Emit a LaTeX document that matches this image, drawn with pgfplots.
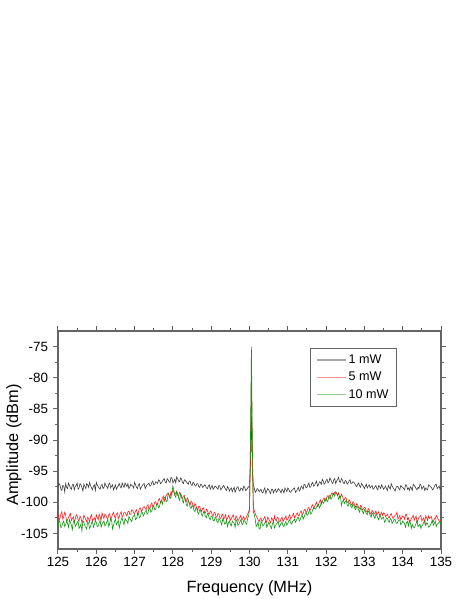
\documentclass[border=0pt]{standalone}
\usepackage{pgfplots}
\usepackage{pgfplotstable}
\pgfplotsset{compat=1.18}
\usepackage{fontspec}
\setmainfont{Liberation Sans}
\definecolor{axgray}{RGB}{100,100,100}
\definecolor{cblack}{RGB}{60,60,60}
\definecolor{cred}{RGB}{255,30,30}
\definecolor{cgreen}{RGB}{20,150,20}
\pgfplotstableread{
f p1 p5 p10
125.000 -97.6 -101.8 -103.8
125.025 -97.0 -102.9 -102.9
125.050 -97.2 -102.6 -103.2
125.075 -97.9 -101.9 -104.1
125.100 -98.1 -101.5 -103.9
125.125 -97.3 -102.7 -103.3
125.150 -97.4 -102.3 -103.0
125.175 -98.3 -101.6 -103.9
125.200 -97.0 -102.0 -103.6
125.225 -97.6 -103.1 -102.9
125.250 -97.8 -102.8 -103.4
125.275 -96.9 -102.4 -104.0
125.300 -97.3 -102.1 -102.8
125.325 -97.7 -101.8 -103.2
125.350 -97.9 -102.9 -103.7
125.375 -97.2 -102.6 -104.4
125.400 -97.1 -102.3 -103.1
125.425 -98.0 -103.2 -102.9
125.450 -97.5 -102.7 -103.9
125.475 -97.3 -102.0 -103.6
125.500 -96.9 -102.2 -103.3
125.525 -97.9 -102.8 -103.0
125.550 -97.7 -103.0 -104.2
125.575 -97.0 -102.2 -103.9
125.600 -97.2 -102.5 -103.5
125.625 -97.6 -103.3 -104.6
125.650 -98.2 -102.9 -103.0
125.675 -97.1 -102.1 -103.2
125.700 -97.4 -102.4 -103.8
125.725 -97.8 -102.8 -104.0
125.750 -97.0 -103.1 -104.3
125.775 -97.2 -102.4 -103.1
125.800 -97.6 -102.6 -103.4
125.825 -96.8 -103.2 -104.2
125.850 -97.3 -102.3 -103.9
125.875 -97.7 -102.0 -103.3
125.900 -98.0 -103.0 -103.1
125.925 -97.4 -102.7 -104.0
125.950 -97.2 -102.5 -103.6
125.975 -98.1 -103.0 -103.0
126.000 -96.8 -102.0 -103.2
126.025 -97.2 -102.4 -103.9
126.050 -97.5 -102.8 -103.8
126.075 -97.7 -101.9 -103.3
126.100 -97.9 -102.3 -102.9
126.125 -97.3 -102.9 -104.0
126.150 -97.1 -101.7 -103.5
126.175 -97.8 -102.2 -103.2
126.200 -97.6 -102.6 -103.0
126.225 -96.9 -101.9 -103.8
126.250 -97.3 -102.1 -103.6
126.275 -97.5 -102.5 -103.1
126.300 -97.8 -102.7 -102.8
126.325 -97.1 -102.0 -103.9
126.350 -96.9 -101.8 -103.4
126.375 -97.7 -102.8 -102.6
126.400 -97.4 -102.4 -102.9
126.425 -97.2 -101.9 -104.3
126.450 -98.0 -101.6 -103.7
126.475 -97.6 -102.3 -103.1
126.500 -97.2 -102.5 -102.7
126.525 -97.9 -101.9 -103.6
126.550 -97.6 -101.7 -103.3
126.575 -97.3 -102.6 -102.9
126.600 -97.0 -102.3 -104.1
126.625 -97.5 -101.8 -103.4
126.650 -97.7 -101.5 -102.8
126.675 -96.9 -102.4 -102.5
126.700 -97.3 -102.1 -103.2
126.725 -97.6 -101.6 -103.6
126.750 -96.9 -101.6 -102.6
126.775 -97.2 -101.9 -102.9
126.800 -97.5 -102.2 -103.0
126.825 -97.0 -101.5 -103.4
126.850 -97.8 -101.4 -102.3
126.875 -97.6 -102.0 -102.6
126.900 -97.1 -101.9 -102.9
126.925 -97.3 -101.2 -103.1
126.950 -97.4 -101.3 -102.4
126.975 -97.7 -101.7 -102.2
127.000 -96.8 -101.8 -102.0
127.025 -97.2 -101.4 -102.8
127.050 -97.6 -101.2 -102.6
127.075 -97.8 -101.9 -102.0
127.100 -97.2 -101.6 -101.8
127.125 -97.0 -101.0 -102.5
127.150 -97.9 -100.9 -102.3
127.175 -97.6 -101.5 -101.7
127.200 -97.3 -101.3 -101.6
127.225 -97.1 -100.8 -102.2
127.250 -97.0 -100.7 -101.9
127.275 -97.8 -101.0 -101.5
127.300 -97.5 -101.2 -101.3
127.325 -97.2 -100.6 -101.9
127.350 -97.1 -100.4 -101.7
127.375 -96.9 -101.1 -101.0
127.400 -97.4 -100.9 -100.9
127.425 -97.3 -100.4 -101.6
127.450 -96.8 -100.1 -101.4
127.475 -96.6 -100.8 -100.8
127.500 -97.2 -100.5 -100.6
127.525 -97.1 -100.0 -101.2
127.550 -96.7 -99.9 -101.1
127.575 -96.8 -100.4 -100.4
127.600 -97.0 -100.2 -100.2
127.625 -96.4 -99.6 -100.9
127.650 -96.5 -99.4 -100.7
127.675 -97.0 -100.1 -99.9
127.700 -96.9 -99.8 -99.8
127.725 -96.6 -99.3 -100.3
127.750 -96.4 -99.0 -99.6
127.775 -96.2 -99.8 -99.3
127.800 -96.8 -99.5 -99.1
127.825 -96.9 -98.9 -99.9
127.850 -96.2 -98.7 -99.8
127.875 -96.4 -98.5 -98.6
127.900 -96.7 -98.9 -98.8
127.925 -96.8 -99.2 -99.4
127.950 -96.0 -98.3 -99.2
127.975 -96.1 -98.6 -98.3
128.000 -96.9 -98.0 -97.4
128.025 -96.6 -98.3 -98.1
128.050 -96.3 -98.8 -98.9
128.075 -96.9 -98.5 -99.2
128.100 -95.9 -98.2 -98.3
128.125 -96.2 -98.9 -98.6
128.150 -96.6 -99.0 -99.3
128.175 -96.7 -98.4 -99.7
128.200 -96.1 -98.6 -98.7
128.225 -96.3 -99.2 -98.9
128.250 -96.8 -99.4 -99.8
128.275 -97.0 -99.0 -100.1
128.300 -96.4 -98.9 -99.2
128.325 -96.5 -99.7 -99.5
128.350 -96.7 -99.9 -100.4
128.375 -96.9 -99.3 -100.6
128.400 -97.1 -99.6 -99.7
128.425 -96.6 -100.1 -100.0
128.450 -96.6 -100.4 -100.8
128.475 -97.2 -99.8 -101.0
128.500 -97.3 -100.0 -100.5
128.525 -96.8 -100.5 -100.7
128.550 -96.9 -100.8 -101.3
128.575 -97.3 -100.2 -101.5
128.600 -97.4 -100.5 -100.9
128.625 -97.0 -101.0 -101.1
128.650 -97.0 -101.3 -101.7
128.675 -97.5 -100.6 -101.9
128.700 -97.6 -100.7 -101.2
128.725 -97.1 -101.2 -101.4
128.750 -97.2 -101.5 -102.0
128.775 -97.6 -101.0 -102.2
128.800 -97.5 -100.9 -101.5
128.825 -97.2 -101.6 -101.7
128.850 -97.3 -101.7 -102.3
128.875 -97.7 -101.1 -102.5
128.900 -97.8 -101.3 -101.8
128.925 -97.4 -101.8 -102.0
128.950 -97.2 -101.9 -102.6
128.975 -97.9 -101.4 -102.8
129.000 -97.6 -101.5 -102.2
129.025 -97.3 -102.0 -102.3
129.050 -97.9 -102.2 -102.9
129.075 -97.7 -101.6 -103.0
129.100 -97.4 -101.7 -102.4
129.125 -97.5 -102.3 -102.5
129.150 -97.7 -102.4 -103.1
129.175 -97.9 -101.8 -103.3
129.200 -97.3 -101.9 -102.6
129.225 -97.4 -102.5 -102.8
129.250 -98.0 -102.6 -103.2
129.275 -97.8 -102.1 -103.6
129.300 -97.5 -101.9 -102.7
129.325 -97.3 -102.7 -102.9
129.350 -97.6 -102.4 -103.5
129.375 -97.9 -102.0 -103.4
129.400 -98.1 -102.8 -102.9
129.425 -97.5 -102.6 -103.9
129.450 -97.7 -102.1 -103.3
129.475 -98.2 -102.4 -103.0
129.500 -97.9 -102.9 -103.6
129.525 -97.7 -102.6 -103.8
129.550 -98.3 -102.3 -103.0
129.575 -97.9 -102.0 -103.2
129.600 -97.6 -102.7 -103.4
129.625 -98.4 -102.9 -104.0
129.650 -98.0 -102.2 -102.8
129.675 -97.6 -102.5 -103.1
129.700 -97.5 -103.0 -103.7
129.725 -98.0 -102.7 -103.5
129.750 -98.2 -102.4 -103.1
129.775 -97.7 -102.1 -102.8
129.800 -97.8 -102.9 -103.5
129.825 -98.1 -102.6 -103.6
129.850 -97.4 -102.3 -102.9
129.875 -97.6 -102.8 -103.0
129.900 -98.1 -102.6 -103.3
129.925 -98.0 -102.3 -103.5
129.950 -97.7 -101.9 -102.6
129.975 -97.5 -101.6 -102.2
130.000 -97.6 -101.0 -101.2
130.025 -94.0 -92.0 -90.0
130.050 -86.0 -79.8 -75.0
130.075 -95.0 -93.0 -91.0
130.100 -97.2 -100.8 -101.5
130.125 -97.8 -101.3 -102.0
130.150 -98.4 -101.9 -102.8
130.175 -98.2 -102.2 -103.9
130.200 -97.8 -102.5 -103.6
130.225 -97.9 -102.8 -103.2
130.250 -98.3 -103.1 -104.2
130.275 -98.1 -102.7 -104.3
130.300 -97.9 -102.5 -103.1
130.325 -98.4 -103.1 -103.3
130.350 -98.5 -102.9 -103.8
130.375 -98.0 -102.6 -103.6
130.400 -97.7 -102.3 -103.3
130.425 -98.6 -102.9 -103.0
130.450 -98.2 -103.2 -104.0
130.475 -97.8 -102.4 -103.7
130.500 -98.0 -102.6 -103.2
130.525 -98.3 -103.0 -103.5
130.550 -98.6 -103.3 -103.9
130.575 -97.9 -102.5 -104.2
130.600 -97.9 -102.7 -103.4
130.625 -98.5 -103.2 -103.1
130.650 -98.1 -102.2 -104.1
130.675 -97.9 -102.8 -103.8
130.700 -98.4 -103.0 -103.5
130.725 -98.2 -102.4 -103.3
130.750 -97.8 -102.5 -103.0
130.775 -98.0 -103.0 -104.0
130.800 -98.2 -103.1 -103.7
130.825 -98.5 -102.6 -103.4
130.850 -97.9 -102.4 -103.2
130.875 -98.1 -103.1 -103.8
130.900 -98.5 -102.8 -103.9
130.925 -97.7 -102.5 -103.4
130.950 -98.0 -102.2 -103.1
130.975 -98.3 -102.9 -103.7
131.000 -97.7 -102.7 -103.4
131.025 -97.9 -102.3 -103.0
131.050 -98.3 -102.0 -102.8
131.075 -98.4 -102.7 -103.3
131.100 -98.1 -102.4 -103.5
131.125 -98.0 -102.1 -103.1
131.150 -97.8 -101.8 -102.9
131.175 -97.7 -102.5 -102.7
131.200 -98.4 -102.3 -103.2
131.225 -98.2 -101.9 -102.9
131.250 -97.9 -101.7 -102.5
131.275 -97.6 -102.2 -102.4
131.300 -98.2 -102.1 -103.0
131.325 -98.0 -101.6 -102.8
131.350 -97.4 -101.4 -102.3
131.375 -97.6 -102.0 -102.0
131.400 -97.9 -101.8 -102.7
131.425 -97.1 -101.3 -102.4
131.450 -97.2 -101.1 -101.9
131.475 -97.7 -101.6 -101.6
131.500 -97.6 -101.5 -102.1
131.525 -97.2 -101.0 -102.0
131.550 -96.9 -100.8 -101.5
131.575 -97.6 -101.3 -101.3
131.600 -97.5 -101.1 -101.9
131.625 -97.0 -100.6 -101.7
131.650 -96.8 -100.4 -101.2
131.675 -97.4 -101.0 -100.9
131.700 -97.3 -100.7 -101.0
131.725 -96.9 -100.3 -101.1
131.750 -96.6 -100.0 -100.8
131.775 -97.4 -100.7 -100.5
131.800 -97.2 -100.5 -100.3
131.825 -96.7 -99.9 -100.9
131.850 -96.8 -99.6 -100.6
131.875 -97.1 -100.3 -100.0
131.900 -96.3 -99.9 -99.8
131.925 -96.6 -99.5 -100.2
131.950 -97.1 -99.3 -99.9
131.975 -96.9 -99.8 -99.5
132.000 -96.5 -99.5 -99.4
132.025 -96.3 -99.1 -99.9
132.050 -96.9 -98.9 -99.7
132.075 -96.7 -99.4 -99.0
132.100 -96.1 -99.2 -98.9
132.125 -96.4 -98.8 -99.5
132.150 -96.8 -98.5 -99.3
132.175 -97.0 -98.6 -98.7
132.200 -96.4 -98.8 -98.6
132.225 -96.2 -98.4 -99.0
132.250 -97.0 -98.3 -98.4
132.275 -96.6 -98.6 -98.5
132.300 -96.3 -98.9 -98.8
132.325 -96.0 -98.5 -99.5
132.350 -96.7 -99.1 -99.2
132.375 -96.8 -99.3 -99.0
132.400 -96.2 -98.7 -100.5
132.425 -96.4 -99.0 -99.9
132.450 -96.9 -99.5 -99.6
132.475 -97.0 -99.6 -100.2
132.500 -96.5 -99.2 -99.9
132.525 -96.6 -99.4 -99.7
132.550 -97.1 -99.9 -100.4
132.575 -96.9 -100.1 -100.6
132.600 -96.6 -99.6 -100.1
132.625 -96.4 -99.8 -100.2
132.650 -97.0 -100.3 -100.7
132.675 -96.9 -100.5 -100.9
132.700 -96.7 -99.9 -100.3
132.725 -96.8 -100.1 -100.5
132.750 -97.0 -100.6 -101.0
132.775 -97.3 -100.8 -101.2
132.800 -97.5 -100.2 -100.6
132.825 -97.1 -100.4 -100.8
132.850 -96.9 -100.9 -101.3
132.875 -97.4 -101.0 -101.6
132.900 -97.6 -100.5 -100.9
132.925 -97.0 -100.7 -101.1
132.950 -97.2 -101.2 -101.5
132.975 -97.5 -101.1 -101.8
133.000 -97.8 -100.8 -101.2
133.025 -97.4 -100.9 -101.4
133.050 -97.1 -101.4 -101.8
133.075 -97.7 -101.6 -102.0
133.100 -97.4 -101.0 -101.4
133.125 -97.2 -101.2 -101.6
133.150 -97.7 -101.7 -102.1
133.175 -97.5 -101.9 -102.4
133.200 -97.3 -101.3 -101.7
133.225 -97.9 -101.5 -101.9
133.250 -97.8 -101.9 -102.3
133.275 -97.5 -101.7 -102.6
133.300 -97.3 -101.4 -101.9
133.325 -97.8 -102.0 -102.1
133.350 -98.0 -101.8 -102.5
133.375 -97.3 -101.5 -102.8
133.400 -97.5 -102.2 -102.0
133.425 -97.8 -101.9 -102.3
133.450 -97.2 -101.6 -102.7
133.475 -97.5 -102.1 -102.5
133.500 -97.9 -101.7 -102.4
133.525 -97.7 -101.8 -103.2
133.550 -97.4 -102.3 -103.0
133.575 -97.8 -102.1 -102.5
133.600 -98.1 -101.9 -102.6
133.625 -97.3 -102.4 -103.0
133.650 -97.6 -102.5 -103.2
133.675 -97.9 -102.0 -102.6
133.700 -97.0 -101.8 -102.8
133.725 -97.4 -102.3 -103.4
133.750 -97.7 -102.6 -103.1
133.775 -97.9 -102.3 -102.8
133.800 -98.2 -102.1 -102.7
133.825 -97.7 -102.0 -103.3
133.850 -97.4 -101.6 -103.4
133.875 -97.5 -102.7 -103.1
133.900 -97.8 -102.4 -102.9
133.925 -98.0 -102.1 -102.8
133.950 -97.3 -102.8 -103.6
133.975 -97.5 -102.5 -103.4
134.000 -97.6 -102.2 -103.0
134.025 -97.8 -102.4 -103.2
134.050 -98.0 -102.7 -103.5
134.075 -97.2 -102.0 -104.0
134.100 -97.2 -101.9 -103.2
134.125 -97.9 -102.8 -103.1
134.150 -97.7 -102.5 -103.8
134.175 -98.1 -103.2 -103.0
134.200 -97.5 -103.0 -103.3
134.225 -97.7 -102.6 -104.2
134.250 -98.1 -102.4 -103.6
134.275 -97.1 -102.1 -103.9
134.300 -97.3 -102.9 -104.1
134.325 -97.5 -102.5 -103.8
134.350 -97.8 -102.2 -103.4
134.375 -98.0 -103.2 -102.9
134.400 -97.6 -102.8 -103.9
134.425 -97.8 -102.4 -103.7
134.450 -97.1 -102.3 -103.5
134.475 -97.2 -102.1 -104.2
134.500 -97.9 -103.0 -103.8
134.525 -97.6 -102.7 -103.6
134.550 -97.4 -102.5 -103.2
134.575 -98.1 -103.3 -103.0
134.600 -97.7 -102.2 -103.7
134.625 -97.9 -102.5 -103.3
134.650 -98.0 -102.9 -103.4
134.675 -97.2 -102.2 -104.0
134.700 -97.3 -102.6 -103.9
134.725 -97.5 -102.4 -103.6
134.750 -97.6 -102.3 -103.3
134.775 -98.0 -103.2 -102.9
134.800 -97.9 -103.1 -103.7
134.825 -97.5 -102.6 -103.4
134.850 -97.2 -102.7 -103.0
134.875 -97.1 -102.1 -103.9
134.900 -97.8 -102.4 -103.5
134.925 -97.6 -102.7 -103.4
134.950 -97.4 -103.0 -103.2
134.975 -97.9 -103.1 -103.1
135.000 -97.6 -102.8 -103.6
}\spec
\begin{document}
\begin{tikzpicture}
\useasboundingbox (-58pt,-50pt) rectangle (405pt,549pt);
\begin{axis}[
  at={(0pt,0pt)}, anchor=south west,
  scale only axis, width=383pt, height=218pt,
  xmin=125, xmax=135, ymin=-107.5, ymax=-72.5,
  xtick={125,126,...,135}, ytick={-105,-100,...,-75},
  minor x tick num=1, minor y tick num=1,
  tick align=outside, xtick pos=both, ytick pos=both,
  xticklabel pos=left, yticklabel pos=left,
  major tick length=5pt, minor tick length=3pt,
  every tick/.style={axgray, line width=1pt},
  axis line style={axgray, line width=1.4pt},
  /pgf/number format/assume math mode=true,
  tick label style={font=\fontsize{13.4}{16}\selectfont},
  yticklabel style={xshift=-1.5pt},
  label style={font=\fontsize{16.3}{19}\selectfont},
  xlabel={Frequency (MHz)}, ylabel={Amplitude (dBm)},
  xlabel style={at={(axis description cs:0.5,-0.2018)}, anchor=base},
  ylabel style={at={(axis description cs:-0.1044,0.477)}, anchor=base},
  legend style={at={(axis description cs:0.885,0.922)}, anchor=north east,
    draw=axgray, line width=0.8pt, font=\fontsize{12.6}{15}\selectfont,
    inner xsep=6pt, inner ysep=4.5pt, row sep=3pt},
  legend cell align=left,
  legend image code/.code={\draw[#1, line width=1.2pt, opacity=0.45] (0pt,0pt) -- (29pt,0pt);},
]
\addplot[cblack, line width=0.6pt] table[x=f, y=p1] {\spec};
\addplot[cred, line width=0.6pt] table[x=f, y=p5] {\spec};
\addplot[cgreen, line width=0.6pt] table[x=f, y=p10] {\spec};
\legend{1 mW, 5 mW, 10 mW}
\end{axis}
\end{tikzpicture}
\end{document}
